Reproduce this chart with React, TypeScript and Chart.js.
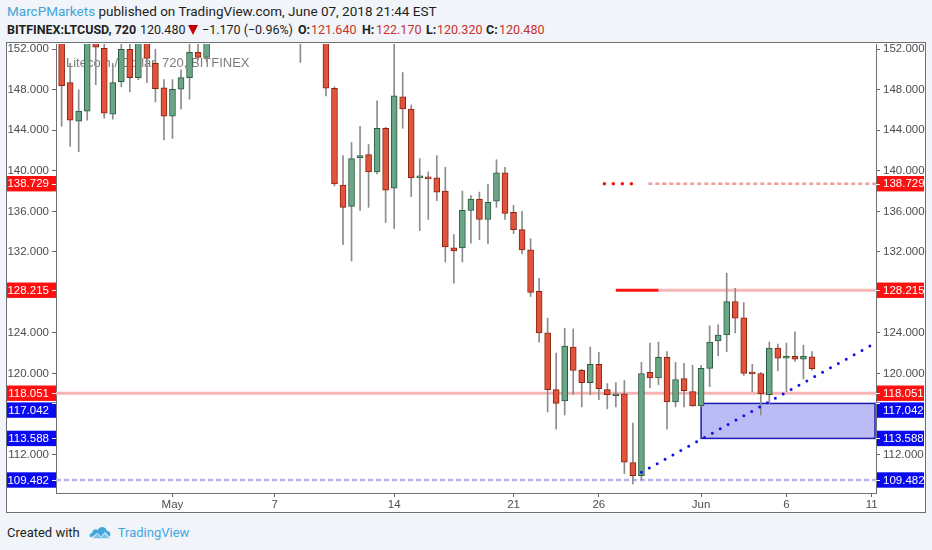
import { useEffect, useRef } from "react";
import { Chart, registerables } from "chart.js";

Chart.register(...registerables);

// 12h candles, x = candle index, 0 = May 1 00:00
const firstIndex = -13;

const opens = [
  153.5, 148.7, 144.9, 145.9, 152.6, 152.1, 145.6, 148.8, 152.0, 149.2,
  153.8, 150.6, 148.2, 145.4, 148.05, 149.2, 151.7, 151.2, 154.8, 157.2,
  162.4, 161.0, 168.3, 166.2, 170.4, 168.8, 163.0, 160.1, 157.4, 153.8,
  157.0, 155.2, 148.15, 138.6, 136.5, 141.3, 141.6, 139.9, 144.2, 138.3,
  147.3, 146.1, 139.3, 139.4, 139.3, 138.0, 132.4, 132.4, 136.1, 137.2,
  135.2, 137.0, 139.8, 135.9, 134.2, 132.2, 128.1, 124.0, 118.4, 117.3,
  122.6, 120.3, 119.1, 120.9, 118.4, 117.8, 118.0, 111.2, 109.9, 120.1,
  119.55, 121.6, 117.2, 119.5, 118.2, 116.8, 120.5, 123.2, 123.8, 127.1,
  125.5, 120.05, 120.0, 117.9, 122.5, 121.5, 121.7, 121.4, 121.64,
];
const highs = [
  154.5, 150.6, 148.0, 154.0, 154.2, 153.0, 150.6, 153.5, 153.0, 154.5,
  155.0, 152.0, 149.0, 149.0, 149.96, 152.7, 152.8, 155.5, 158.0, 163.5,
  166.0, 169.5, 172.0, 171.5, 174.0, 170.5, 166.4, 163.0, 159.0, 158.5,
  159.5, 156.5, 148.3, 141.5, 142.8, 144.4, 142.6, 146.9, 144.3, 153.0,
  149.7, 146.5, 141.2, 139.9, 141.5, 140.35, 133.7, 138.0, 137.55, 137.9,
  138.7, 141.1, 140.35, 136.6, 136.0, 133.3, 129.4, 125.45, 122.0, 124.45,
  124.4, 120.4, 122.6, 122.1, 119.0, 119.1, 119.3, 115.1, 121.1, 123.0,
  123.1, 122.15, 121.1, 121.0, 120.8, 120.8, 124.7, 124.8, 129.9, 128.4,
  127.0, 120.9, 120.1, 123.1, 122.9, 123.0, 124.1, 122.8, 122.17,
];
const lows = [
  144.4, 142.4, 141.9, 145.0, 148.5, 145.2, 145.1, 148.3, 147.8, 149.0,
  148.7, 146.8, 143.05, 143.2, 146.1, 147.06, 151.0, 150.8, 153.6, 156.4,
  159.8, 160.2, 164.5, 165.0, 167.5, 161.0, 158.5, 155.2, 150.7, 153.0,
  154.0, 147.4, 138.5, 132.7, 131.1, 136.1, 136.4, 139.7, 134.9, 134.3,
  144.2, 137.45, 134.1, 135.2, 137.05, 131.0, 128.9, 131.0, 132.85, 133.2,
  132.8, 136.4, 135.2, 133.8, 131.8, 127.6, 123.1, 116.2, 114.5, 115.9,
  117.9, 116.7, 117.9, 117.4, 116.5, 116.7, 110.1, 109.1, 109.48, 118.6,
  118.9, 114.5, 116.7, 116.7, 116.75, 116.7, 118.7, 121.75, 122.15, 124.0,
  119.8, 118.2, 115.9, 116.95, 120.25, 118.2, 121.2, 119.45, 120.32,
];
const closes = [
  148.4, 145.0, 145.9, 153.6, 152.2, 145.7, 148.7, 152.0, 149.2, 153.5,
  151.1, 148.1, 145.4, 148.05, 149.2, 151.7, 151.2, 154.8, 157.2, 162.4,
  161.0, 168.3, 166.2, 170.4, 168.8, 163.0, 160.1, 157.4, 153.8, 157.0,
  155.2, 148.15, 138.7, 136.4, 141.2, 141.5, 139.9, 144.2, 138.1, 147.4,
  146.1, 139.3, 139.4, 139.2, 137.9, 132.5, 132.1, 136.1, 137.2, 135.2,
  136.9, 139.8, 135.8, 134.2, 132.2, 128.0, 124.0, 118.4, 117.05, 122.7,
  120.3, 119.1, 120.9, 118.5, 117.9, 118.0, 111.25, 109.9, 120.0, 119.55,
  121.6, 117.2, 119.4, 118.3, 116.8, 120.5, 123.1, 123.8, 127.1, 125.45,
  120.0, 119.95, 118.0, 122.5, 121.5, 121.6, 121.4, 121.7, 120.48,
];

const dateTicks = [0, 12, 26, 40, 50, 62, 72, 82];
const dateLabels = ["May", "7", "14", "21", "26", "Jun", "6", "11"];
const priceTicks = [112, 120, 124, 132, 136, 140, 144, 148, 152];

const redLevels = [138.729, 128.215, 118.051];
const blueLevels = [117.042, 113.588, 109.482];

// drawings: [startIndex, endIndex]
const dottedResistance = [50.65, 54.85];
const dashedResistance = [55.8, 82.51];
const solidMarker = [52.0, 57.0];
const solidResistance = [57.0, 82.51];
const zoneStart = 62;
const zoneTop = 117.042;
const zoneBottom = 113.588;
const trendX = [55, 82];
const trendY = [110.24, 122.8];

const X_MIN = -13.66;
const X_MAX = 82.51;
const Y_MIN = 108.2;
const Y_MAX = 152.52;

const tickFont = { family: "'Liberation Sans', Arial, sans-serif", size: 11.5 };

const overlays = {
  id: "overlays",
  beforeDatasetsDraw(chart: any) {
    const { ctx, chartArea, scales } = chart;
    ctx.save();
    ctx.font = "13px 'Liberation Sans', Arial, sans-serif";
    ctx.fillStyle = "rgba(90,90,90,0.8)";
    ctx.textBaseline = "middle";
    ctx.fillText("Litecoin / Dollar, 720, BITFINEX", chartArea.left + 10, chartArea.top + 19);

    const x0 = scales.x.getPixelForValue(zoneStart);
    const x1 = chartArea.right - 1;
    const yt = scales.y.getPixelForValue(zoneTop);
    const yb = scales.y.getPixelForValue(zoneBottom);
    ctx.fillStyle = "rgba(60,60,230,0.35)";
    ctx.fillRect(x0, yt, x1 - x0, yb - yt);
    ctx.strokeStyle = "#1c1cb4";
    ctx.lineWidth = 1.5;
    ctx.strokeRect(x0, yt, x1 - x0, yb - yt);
    ctx.restore();
  },
  afterDraw(chart: any) {
    const { ctx, chartArea, scales, width, height } = chart;
    ctx.save();
    // right price panel covers the last date label
    ctx.fillStyle = "#ffffff";
    ctx.fillRect(chartArea.right + 1, chartArea.bottom + 1, width - chartArea.right, height - chartArea.bottom);

    const boxes = [
      ...redLevels.map((v) => ({ v, color: "#ff0f0f" })),
      ...blueLevels.map((v) => ({ v, color: "#0a0af2" })),
    ]
      .map((b) => ({ ...b, y: scales.y.getPixelForValue(b.v) }))
      .sort((a, b) => a.y - b.y);
    const h = 15.4;
    let prevBottom = -Infinity;
    ctx.font = `${tickFont.size}px ${tickFont.family}`;
    ctx.textBaseline = "middle";
    for (const b of boxes) {
      let top = b.y - h / 2;
      if (top < prevBottom + 1.5) top = prevBottom + 1.5;
      prevBottom = top + h;
      const cy = top + h / 2;
      ctx.fillStyle = b.color;
      ctx.fillRect(0, top, chartArea.left, h);
      ctx.fillRect(chartArea.right + 1, top, width - chartArea.right - 2, h);
      ctx.fillStyle = "#ffffff";
      ctx.textAlign = "right";
      ctx.fillText(b.v.toFixed(3), chartArea.left - 7, cy + 0.5);
      ctx.textAlign = "left";
      ctx.fillText(b.v.toFixed(3), chartArea.right + 7, cy + 0.5);
      ctx.strokeStyle = "#ffffff";
      ctx.lineWidth = 1;
      ctx.beginPath();
      ctx.moveTo(chartArea.left - 4, Math.round(b.y) + 0.5);
      ctx.lineTo(chartArea.left, Math.round(b.y) + 0.5);
      ctx.moveTo(chartArea.right, Math.round(b.y) + 0.5);
      ctx.lineTo(chartArea.right + 4, Math.round(b.y) + 0.5);
      ctx.stroke();
    }
    ctx.restore();
  },
};

function hLine(level: number, range: number[], color: string, width: number, dash: number[], cap: string, order: number) {
  return {
    type: "line" as const,
    data: [
      { x: range[0], y: level },
      { x: range[1], y: level },
    ],
    borderColor: color,
    borderWidth: width,
    borderDash: dash,
    borderCapStyle: cap,
    pointRadius: 0,
    order,
  };
}

function yAxis(position: "left" | "right") {
  return {
    type: "linear" as const,
    position,
    min: Y_MIN,
    max: Y_MAX,
    afterBuildTicks: (scale: any) => {
      scale.ticks = priceTicks.map((v) => ({ value: v }));
    },
    afterFit: (scale: any) => {
      scale.width = 49;
      scale.paddingTop = 0;
      scale.paddingBottom = 0;
    },
    ticks: {
      color: "#4d4d4d",
      font: tickFont,
      padding: 3,
      callback: (v: any) => Number(v).toFixed(3),
    },
    grid: { drawOnChartArea: false, tickLength: 4, color: "#666" },
    border: { display: true, color: "#6f6f6f" },
  };
}

function CandleChart() {
  const canvasRef = useRef<HTMLCanvasElement>(null);

  useEffect(() => {
    if (!canvasRef.current) return;
    const idx = opens.map((_, i) => firstIndex + i);
    const up = opens.map((o, i) => closes[i] >= o);

    const chart = new Chart(canvasRef.current, {
      type: "bar",
      data: {
        datasets: [
          {
            type: "bar",
            data: idx.map((x, i) => ({ x, y: [lows[i], highs[i]] })),
            backgroundColor: "#8c8c8c",
            borderWidth: 0,
            barThickness: 1,
            grouped: false,
            order: 5,
          } as any,
          {
            type: "bar",
            data: idx.map((x, i) => ({ x, y: [opens[i], closes[i]] })),
            backgroundColor: up.map((u) => (u ? "#6aa585" : "#e0533c")),
            borderColor: up.map((u) => (u ? "#2b5c40" : "#8a2412")),
            borderWidth: 1,
            borderSkipped: false,
            barThickness: 6,
            minBarLength: 2,
            grouped: false,
            order: 4,
          } as any,
          hLine(blueLevels[2], [X_MIN, X_MAX], "#b4b4f0", 2.5, [5, 3], "butt", 6),
          hLine(redLevels[2], [X_MIN, X_MAX], "#f7b4b4", 3, [], "butt", 6),
          hLine(redLevels[1], solidResistance, "#f7b8b8", 3, [], "butt", 6),
          hLine(redLevels[1], solidMarker, "#ff1414", 3, [], "butt", 3),
          hLine(redLevels[0], dashedResistance, "#f29c9c", 2.5, [4, 3], "butt", 6),
          hLine(redLevels[0], dottedResistance, "#f01414", 3.5, [0, 9], "round", 3),
          {
            type: "line",
            data: trendX.map((x, i) => ({ x, y: trendY[i] })),
            borderColor: "#1010e6",
            borderWidth: 3,
            borderDash: [0, 9],
            borderCapStyle: "round",
            pointRadius: 0,
            order: 1,
          } as any,
        ],
      },
      options: {
        responsive: false,
        animation: false,
        events: [],
        layout: { padding: { top: 1, left: 0, right: 0, bottom: 0 } },
        plugins: { legend: { display: false }, tooltip: { enabled: false } },
        scales: {
          x: {
            type: "linear",
            min: X_MIN,
            max: X_MAX,
            offset: false,
            afterBuildTicks: (scale: any) => {
              scale.ticks = dateTicks.map((v) => ({ value: v }));
            },
            afterFit: (scale: any) => {
              scale.height = 19;
              scale.paddingLeft = 0;
              scale.paddingRight = 0;
            },
            ticks: {
              color: "#4d4d4d",
              font: tickFont,
              padding: 1,
              autoSkip: false,
              maxRotation: 0,
              callback: (_v: any, i: number) => dateLabels[i],
            },
            grid: { drawOnChartArea: false, offset: false, tickLength: 4, color: "#666" },
            border: { display: true, color: "#6f6f6f" },
          },
          y: yAxis("left"),
          y2: yAxis("right"),
        },
      },
      plugins: [overlays],
    } as any);

    return () => chart.destroy();
  }, []);

  return <canvas ref={canvasRef} width={918} height={469} style={{ display: "block" }} />;
}

const red = "#c8312b";
const headerParts = [
  { text: "120.480", left: 140, color: "#1e1e1e", bold: false },
  { text: "−1.170 (−0.96%)", left: 202, color: "#1e1e1e", bold: false },
  { text: "O:", left: 298, color: "#1e1e1e", bold: true },
  { text: "121.640", left: 311, color: red, bold: false },
  { text: "H:", left: 362, color: "#1e1e1e", bold: true },
  { text: "122.170", left: 376, color: red, bold: false },
  { text: "L:", left: 426, color: "#1e1e1e", bold: true },
  { text: "120.320", left: 437, color: red, bold: false },
  { text: "C:", left: 486, color: "#1e1e1e", bold: true },
  { text: "120.480", left: 499, color: red, bold: false },
];

export default function App() {
  return (
    <div
      style={{
        position: "absolute",
        left: 0,
        top: 0,
        width: 932,
        height: 550,
        background: "#f1f4f8",
        fontFamily: "Roboto, 'Liberation Sans', sans-serif",
        color: "#1e1e1e",
        overflow: "hidden",
      }}
    >
      <div style={{ position: "absolute", left: 7, top: 3, fontSize: 13.5, whiteSpace: "nowrap" }}>
        <span style={{ color: "#3fa5dc" }}>MarcPMarkets</span> published on TradingView.com, June 07, 2018 21:44 EST
      </div>
      <div style={{ position: "absolute", left: 0, top: 22, fontSize: 12.5, whiteSpace: "nowrap", height: 18, width: 600 }}>
        <b style={{ position: "absolute", left: 7 }}>BITFINEX:LTCUSD, 720</b>
        {headerParts.map((p) => (
          <span
            key={p.left}
            style={{ position: "absolute", left: p.left, color: p.color, fontWeight: p.bold ? 700 : 400 }}
          >
            {p.text}
          </span>
        ))}
        <svg width="10" height="10" viewBox="0 0 10 10" style={{ position: "absolute", left: 188, top: 3 }}>
          <path d="M0 0 L10 0 L5 10 Z" fill="#c40000" />
        </svg>
      </div>
      <div
        style={{
          position: "absolute",
          left: 6,
          top: 42,
          width: 920,
          height: 471,
          boxSizing: "border-box",
          border: "1px solid #6f6f6f",
          background: "#ffffff",
        }}
      >
        <CandleChart />
      </div>
      <div style={{ position: "absolute", left: 7, top: 524, fontSize: 13, whiteSpace: "nowrap", display: "flex", alignItems: "center" }}>
        <span>Created with</span>
        <svg width="23" height="16" viewBox="0 0 26 18" style={{ margin: "0 6px 0 9px" }}>
          <path
            d="M3 15 C0 15 0 10 3.5 10 C3.5 6 8 4.5 10 7 C11.5 2 19 2 20 7.5 C24 7.5 25.5 12 23 14.5 L18 9 L13.5 14 L9.5 10 Z"
            fill="#45a6dc"
          />
          <path d="M4 16 L9.5 11 L13.5 15 L18 10.5 L23 16 Z" fill="#7cc3ea" />
        </svg>
        <span style={{ color: "#45a6dc" }}>TradingView</span>
      </div>
    </div>
  );
}
